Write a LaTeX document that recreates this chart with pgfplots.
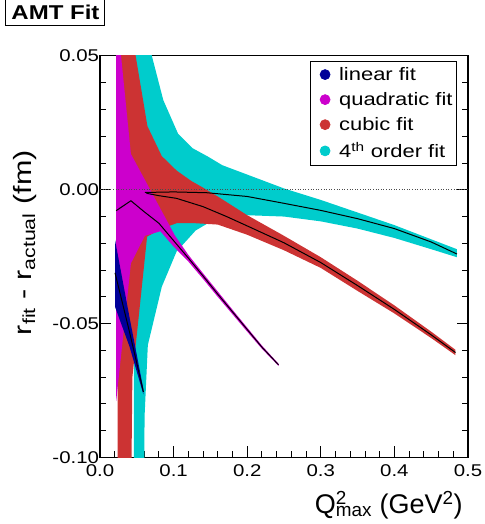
\documentclass[border=0pt]{standalone}
\usepackage{fontspec}
\setmainfont{Liberation Sans}
\usepackage{graphicx}
\usepackage{pgfplots}
\pgfplotsset{compat=1.18}
\definecolor{cLin}{RGB}{0,0,153}
\definecolor{cQuad}{RGB}{204,0,204}
\definecolor{cCub}{RGB}{204,51,51}
\definecolor{cFour}{RGB}{0,204,204}
\newcommand\sx[1]{\scalebox{1.2}[1]{#1}}
\begin{document}
\begin{tikzpicture}
\useasboundingbox (-100pt,-66.5pt) rectangle (384pt,457.5pt);
\begin{axis}[
  scale only axis, width=368pt, height=401.5pt,
  xmin=0, xmax=0.5, ymin=-0.1, ymax=0.05,
  xtick={0,0.1,0.2,0.3,0.4,0.5},
  xticklabels={\sx{0.0},\sx{0.1},\sx{0.2},\sx{0.3},\sx{0.4},\sx{0.5}},
  ytick={-0.1,-0.05,0,0.05},
  yticklabels={\sx{-0.10},\sx{-0.05},\sx{0.00},\sx{0.05}},
  minor x tick num=4, minor y tick num=4,
  tick align=inside,
  xtick pos=left, ytick pos=both, yticklabel pos=left,
  major tick length=11pt, minor tick length=6pt,
  every tick/.style={black, line width=0.9pt},
  axis line style={line width=1.1pt},
  tick label style={font=\fontsize{17}{17}\selectfont},
  xticklabel style={yshift=-4pt},
  yticklabel style={xshift=2.5pt},
  title={\sx{AMT Fit}},
  title style={at={(-0.121,1.0934)}, anchor=center, draw, line width=1pt,
    minimum width=99pt, minimum height=27pt, inner sep=0pt,
    font=\bfseries\fontsize{20}{20}\selectfont},
  xlabel={Q\rlap{\textsuperscript{2}}\textsubscript{max} (GeV\textsuperscript{2})},
  xlabel style={at={(axis description cs:0.995,-0.118)}, anchor=east,
    font=\fontsize{27}{27}\selectfont},
  ylabel={\scalebox{1.22}[1]{r\textsubscript{fit} - r\textsubscript{actual} (fm)}},
  ylabel style={at={(axis description cs:-0.205,0.535)}, anchor=center,
    font=\fontsize{25}{25}\selectfont},
  legend style={at={(0.970,0.9875)}, anchor=north east, draw=black,
    line width=0.7pt, font=\fontsize{18}{18}\selectfont,
    inner xsep=2pt, inner ysep=4pt, row sep=6.5pt,
    nodes={inner xsep=2pt}},
  legend cell align=left,
  legend image code/.code={\path[draw=none,fill=none] (-13pt,-5pt) rectangle (12pt,5pt); \fill[#1] (0pt,0pt) circle (5pt);},
]
\addlegendimage{cLin}\addlegendentry{\scalebox{1.22}[1]{linear fit}}
\addlegendimage{cQuad}\addlegendentry{\scalebox{1.22}[1]{quadratic fit}}
\addlegendimage{cCub}\addlegendentry{\scalebox{1.22}[1]{cubic fit}}
\addlegendimage{cFour}\addlegendentry{\scalebox{1.22}[1]{4\textsuperscript{th} order fit}}

% 4th order band
\addplot[fill=cFour, draw=none, forget plot] coordinates {
 (0.046,0.35) (0.062,0.059) (0.086,0.0335) (0.106,0.021) (0.126,0.0155)
 (0.146,0.0125) (0.166,0.0092) (0.195,0.0062) (0.25,0.0005) (0.3,-0.0038)
 (0.35,-0.0085) (0.4,-0.0132) (0.45,-0.0185) (0.485,-0.0222)
 (0.485,-0.0252) (0.45,-0.0222) (0.4,-0.0180) (0.35,-0.0145) (0.3,-0.0118)
 (0.25,-0.0100) (0.2,-0.0095) (0.154,-0.0113) (0.13,-0.0152) (0.104,-0.0231)
 (0.084,-0.0362) (0.065,-0.058) (0.0605,-0.085) (0.046,-1.5)};
% cubic band
\addplot[fill=cCub, draw=none, forget plot] coordinates {
 (0.024,0.6) (0.044,0.0574) (0.0644,0.0238) (0.0839,0.0126) (0.104,0.0072)
 (0.124,0.0033) (0.14,0.0008) (0.16,-0.0025) (0.2,-0.0095) (0.25,-0.0172)
 (0.3,-0.0252) (0.35,-0.0340) (0.4,-0.0432) (0.45,-0.0530) (0.483,-0.0598)
 (0.483,-0.0618) (0.45,-0.0554) (0.4,-0.0462) (0.35,-0.0378) (0.3,-0.0292)
 (0.25,-0.0226) (0.2,-0.0168) (0.16,-0.0130) (0.13,-0.0125) (0.104,-0.0125)
 (0.084,-0.0145) (0.064,-0.0175) (0.044,-0.07) (0.024,-0.6)};
% quadratic band
\addplot[fill=cQuad, draw=none, forget plot] coordinates {
 (0.022,0.068) (0.042,0.0134) (0.061,0.0037) (0.082,-0.007) (0.102,-0.0172)
 (0.12,-0.0243) (0.14,-0.0312) (0.16,-0.0380) (0.18,-0.0448) (0.2,-0.0515)
 (0.22,-0.0582) (0.2426,-0.0650)
 (0.2426,-0.0658) (0.22,-0.0594) (0.2,-0.0530) (0.18,-0.0465) (0.16,-0.0400)
 (0.14,-0.0333) (0.12,-0.0268) (0.10,-0.0212) (0.082,-0.0155) (0.061,-0.0172)
 (0.042,-0.0275) (0.022,-0.079)};
% linear band
\addplot[fill=cLin, draw=none, forget plot] coordinates {
 (0.0204,-0.0187) (0.04,-0.0475) (0.059,-0.0745)
 (0.059,-0.0765) (0.04,-0.0585) (0.0204,-0.0437)};

% central values
\addplot[black, line width=1pt, forget plot] coordinates {
 (0.0204,-0.031) (0.04,-0.053) (0.059,-0.0755)};
\addplot[black, line width=1pt, forget plot] coordinates {
 (0.022,-0.0078) (0.042,-0.0041) (0.06,-0.0082) (0.08,-0.0125) (0.10,-0.019)
 (0.12,-0.0255) (0.14,-0.0322) (0.16,-0.039) (0.18,-0.0456) (0.2,-0.0522)
 (0.22,-0.0588) (0.2426,-0.0654)};
\addplot[black, line width=1pt, forget plot] coordinates {
 (0.063,-0.0013) (0.08,-0.0022) (0.104,-0.0032) (0.14,-0.0063) (0.172,-0.0100)
 (0.2,-0.0135) (0.25,-0.0198) (0.3,-0.0272) (0.35,-0.0358) (0.4,-0.0447)
 (0.45,-0.0542) (0.483,-0.0608)};
\addplot[black, line width=1pt, forget plot] coordinates {
 (0.061,-0.0010) (0.1,-0.0008) (0.145,-0.0011) (0.2,-0.0025) (0.245,-0.0048)
 (0.3,-0.0077) (0.35,-0.0108) (0.4,-0.0145) (0.45,-0.0195) (0.485,-0.0240)};

% zero line
\addplot[black!70, dotted, line width=0.6pt, forget plot] coordinates {(0,0) (0.5,0)};
\end{axis}
\end{tikzpicture}
\end{document}
